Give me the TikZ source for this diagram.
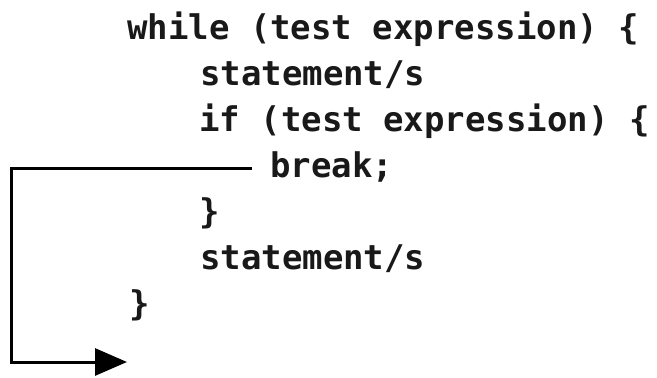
\documentclass[tikz,border=0pt]{standalone}
\usepackage{fontspec}
\setmonofont{DejaVu Sans Mono}
\usetikzlibrary{arrows.meta}
\usetikzlibrary{calc}
\tikzset{
 code/.style={anchor=base west, inner sep=0, font=\ttfamily\bfseries\fontsize{34}{34}\selectfont, text=black!90},
 jump/.style={black, line width=3pt, -{Triangle[length=32pt,width=27pt]}}
}
\begin{document}
\begin{tikzpicture} [x=1pt, y=-1pt]
\useasboundingbox (0,0) rectangle (657,378);
\node[code] (loop)  at (127,39)  {while (test expression) \{};
\node[code] (stmta) at (200,85)  {statement/s};
\node[code] (cond)  at (199,131) {if (test expression) \{};
\node[code] (brk)   at (270,177) {break;};
\node[code] (condend) at (199,223) {\}};
\node[code] (stmtb) at (200,269) {statement/s};
\node[code] (loopend) at (129,315) {\}};
\coordinate (corner) at (11,362);
\coordinate (exit) at ([xshift=-2pt]loopend.west |- corner);
\draw[jump] ([shift={(-18pt,9pt)}]brk.base west) -| (corner) -- (exit);
\end{tikzpicture}
\end{document}
